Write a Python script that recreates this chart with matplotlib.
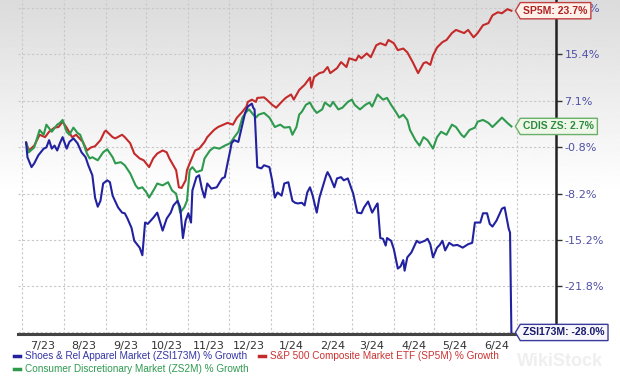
import numpy as np
import pandas as pd
import matplotlib
matplotlib.use("Agg")
import matplotlib.pyplot as plt
import matplotlib.dates as mdates
from matplotlib.path import Path
from matplotlib.lines import Line2D
from matplotlib.ticker import FixedLocator, NullFormatter, FuncFormatter


def to_dates(md):
    # chart runs Jul 2023 - Jun 2024, so the year follows from the month
    return pd.to_datetime([("2023-" if int(s[:2]) >= 7 else "2024-") + s for s in md])


# S&P 500 Composite Market ETF (SP5M) % growth
sp5m_days = ["07-04", "07-06", "07-10", "07-14", "07-18", "07-21", "07-25", "07-28", "07-31",
             "08-03", "08-07", "08-10", "08-15", "08-18", "08-21", "08-24", "08-28", "08-31",
             "09-01", "09-06", "09-08", "09-13", "09-15", "09-19", "09-22", "09-26", "09-29",
             "10-03", "10-06", "10-09", "10-13", "10-16", "10-18", "10-23", "10-25", "10-27", "10-30", "10-31",
             "11-02", "11-06", "11-09", "11-13", "11-15", "11-20", "11-23", "11-27", "11-30",
             "12-04", "12-07", "12-11", "12-14", "12-15", "12-18", "12-21", "12-22", "12-27", "12-29",
             "01-02", "01-05", "01-09", "01-12", "01-16", "01-18", "01-22", "01-26", "01-30", "01-31",
             "02-02", "02-06", "02-09", "02-12", "02-14", "02-19", "02-22", "02-26", "02-28",
             "03-04", "03-06", "03-08", "03-12", "03-15", "03-19", "03-22", "03-26", "03-28",
             "04-01", "04-04", "04-08", "04-11", "04-15", "04-19", "04-23", "04-25", "04-28", "04-30",
             "05-03", "05-07", "05-10", "05-14", "05-17", "05-21", "05-23", "05-26", "05-30",
             "06-02", "06-06", "06-10", "06-13", "06-17", "06-20", "06-24", "06-27"]
sp5m_vals = [0.0, -1.3, -0.5, 1.3, 0.9, 1.8, 2.5, 2.6, 3.5,
             2.5, 0.9, 1.3, 0.1, -1.3, -0.8, -0.6, 0.4, 1.8,
             2.0, 0.9, 0.7, 1.3, 0.9, -0.1, -1.8, -2.6, -2.9,
             -4.0, -2.6, -1.8, -1.3, -1.6, -2.6, -4.5, -7.2, -7.3, -6.1, -4.5,
             -3.4, -1.3, -1.0, 0.1, 0.9, 2.1, 2.6, 3.0, 3.3,
             3.0, 4.2, 5.2, 6.1, 6.9, 7.3, 6.9, 7.6, 7.7, 7.3,
             6.4, 5.9, 6.9, 7.6, 8.2, 7.3, 9.0, 9.9, 11.2, 9.4,
             11.3, 12.0, 12.2, 13.1, 12.0, 12.9, 14.0, 13.1, 14.7,
             14.3, 15.2, 14.7, 15.6, 14.9, 17.1, 17.5, 17.1, 18.1,
             17.5, 16.2, 16.5, 15.8, 14.0, 12.0, 13.8, 14.0, 13.5, 15.2,
             16.7, 17.7, 18.1, 19.4, 20.0, 19.6, 19.4, 20.0, 18.6,
             19.4, 20.9, 21.3, 22.8, 23.4, 23.2, 24.0, 23.7]

# Consumer Discretionary Market (ZS2M) % growth
zs2m_days = ["07-04", "07-06", "07-10", "07-14", "07-17", "07-19", "07-23", "07-27", "07-29", "07-31",
             "08-03", "08-05", "08-08", "08-11", "08-13", "08-15", "08-18", "08-20", "08-22", "08-26", "08-30",
             "09-02", "09-06", "09-08", "09-12", "09-15", "09-19", "09-23", "09-25", "09-28",
             "10-01", "10-03", "10-07", "10-09", "10-13", "10-17", "10-20", "10-23", "10-26", "10-29", "10-31",
             "11-02", "11-04", "11-07", "11-11", "11-13", "11-17", "11-20", "11-24", "11-28",
             "12-02", "12-05", "12-08", "12-11", "12-14", "12-16", "12-18", "12-21", "12-23", "12-27", "12-31",
             "01-04", "01-08", "01-11", "01-15", "01-17", "01-20", "01-22", "01-24", "01-27", "01-30",
             "02-01", "02-04", "02-08", "02-10", "02-14", "02-16", "02-20", "02-23", "02-27",
             "03-01", "03-03", "03-07", "03-11", "03-14", "03-16", "03-20", "03-24", "03-27", "03-30",
             "04-03", "04-05", "04-08", "04-11", "04-13", "04-17", "04-20", "04-23", "04-26", "04-30",
             "05-03", "05-06", "05-10", "05-14", "05-17", "05-21", "05-23", "05-27", "05-31",
             "06-02", "06-06", "06-10", "06-13", "06-17", "06-20", "06-24", "06-27"]
zs2m_vals = [0.0, -1.6, -0.8, 2.1, 1.3, 3.0, 1.8, 3.0, 3.3, 3.8,
             1.8, 1.3, 2.5, 1.6, 1.3, 0.1, -1.8, -2.6, -2.4, -2.9, -1.6,
             -1.1, -2.4, -3.4, -3.2, -3.7, -5.0, -6.9, -7.4, -7.2,
             -8.0, -8.8, -7.4, -6.6, -6.9, -6.4, -7.7, -8.2, -11.1, -10.3, -9.3,
             -4.5, -4.0, -4.8, -4.5, -2.6, -1.3, -0.8, -1.0, -0.5,
             -0.1, 0.9, 1.8, 4.2, 5.2, 5.6, 5.0, 4.2, 4.7, 5.0, 4.2,
             2.6, 3.0, 2.5, 2.6, 1.3, 2.6, 4.7, 5.2, 6.4, 6.8,
             5.9, 5.0, 5.6, 6.8, 6.1, 6.9, 5.6, 5.9, 6.9,
             7.3, 6.4, 5.6, 6.4, 6.8, 6.1, 8.2, 7.3, 7.6, 6.4,
             5.0, 4.2, 4.7, 3.8, 2.1, 0.4, -0.5, 0.9, 0.4, -1.0,
             0.9, 1.8, 1.3, 3.0, 2.6, 1.3, 0.9, 2.1, 2.5,
             3.5, 3.8, 3.3, 2.6, 3.5, 4.2, 3.3, 2.7]

# Shoes & Rel Apparel Market (ZSI173M) % growth
zsi_days = ["07-04", "07-05", "07-08", "07-10", "07-13", "07-17", "07-19", "07-21", "07-23", "07-25", "07-27", "07-29", "07-31",
            "08-03", "08-05", "08-08", "08-11", "08-14", "08-17", "08-19", "08-22", "08-24", "08-26", "08-28", "08-30",
            "09-02", "09-04", "09-06", "09-10", "09-13", "09-15", "09-17", "09-20", "09-22", "09-26", "09-28", "09-30",
            "10-02", "10-06", "10-09", "10-13", "10-16", "10-19", "10-21", "10-24", "10-26", "10-28", "10-30",
            "11-01", "11-03", "11-04", "11-07", "11-09", "11-11", "11-13", "11-15", "11-18", "11-22", "11-26", "11-28", "11-30",
            "12-02", "12-03", "12-05", "12-08", "12-11", "12-13", "12-15", "12-18", "12-19", "12-20", "12-22", "12-25", "12-27", "12-31",
            "01-02", "01-04", "01-06", "01-09", "01-11", "01-14", "01-17", "01-19", "01-21", "01-24", "01-26", "01-28", "01-30",
            "02-01", "02-04", "02-06", "02-08", "02-11", "02-12", "02-14", "02-17", "02-19", "02-22", "02-24", "02-27",
            "03-02", "03-05", "03-08", "03-10", "03-13", "03-16", "03-19", "03-20", "03-22", "03-24", "03-26", "03-27", "03-30",
            "04-01", "04-04", "04-06", "04-08", "04-09", "04-11", "04-14", "04-18", "04-20", "04-24", "04-26", "04-28", "04-30",
            "05-03", "05-05", "05-07", "05-09", "05-12", "05-15", "05-18", "05-22", "05-26", "05-29", "05-31",
            "06-04", "06-06", "06-09", "06-11", "06-13", "06-16", "06-20", "06-22", "06-23", "06-25", "06-26", "06-27"]
zsi_vals = [0.0, -2.4, -4.0, -3.4, -2.1, -1.0, -0.8, 0.4, -1.0, -0.5, -1.3, -0.1, 0.9,
            -1.0, 0.1, 0.7, -0.1, -1.6, -2.4, -3.7, -5.3, -8.8, -10.2, -9.3, -6.6,
            -6.1, -6.4, -8.5, -10.3, -11.1, -11.2, -12.0, -13.4, -15.3, -16.3, -17.4, -12.6,
            -12.8, -11.9, -11.1, -13.8, -12.0, -11.1, -10.0, -9.3, -10.3, -14.9, -12.3,
            -11.2, -12.6, -7.7, -5.6, -5.3, -7.4, -8.8, -6.6, -7.4, -7.2, -5.8, -5.6, -3.4,
            -1.3, -0.1, 0.4, 0.1, 3.0, 5.0, 6.1, 6.6, 5.9, 5.6, -4.0, -4.2, -3.7, -4.0,
            -6.1, -8.8, -8.0, -8.5, -6.6, -6.4, -9.3, -9.6, -9.7, -9.6, -10.0, -8.0, -7.2,
            -8.5, -11.1, -8.8, -7.4, -5.3, -4.8, -5.6, -7.2, -5.8, -5.6, -6.1, -5.8,
            -8.2, -11.1, -11.2, -10.3, -9.4, -11.1, -10.0, -9.7, -14.9, -15.0, -16.0, -14.9, -15.3,
            -16.5, -19.3, -19.0, -18.1, -19.6, -17.7, -17.0, -15.3, -15.6, -15.3, -15.0, -15.8, -17.7,
            -16.3, -15.9, -15.3, -16.7, -15.6, -16.0, -15.9, -16.3, -15.8, -15.6, -12.6,
            -12.6, -11.2, -11.2, -12.8, -13.2, -12.3, -10.5, -10.3, -11.4, -13.5, -14.1, -28.0]

ytick_vals = [-28.0, -21.8, -15.2, -8.2, -0.8, 7.1, 15.4, 24.2]
month_starts = pd.date_range("2023-07-01", "2024-07-01", freq="MS")
mid_months = pd.date_range("2023-07-01", periods=12, freq="MS") + pd.Timedelta(days=15)

c_red, c_green, c_blue = "#c42a2a", "#2e9a4e", "#2222a0"

# axis uses a compressed log-like growth scale (evenly spaced ticks)
OFF = 133.7
def fwd(v):
    return np.log(np.clip(np.asarray(v, dtype=float) + OFF, 1e-6, None))
def inv(u):
    return np.exp(u) - OFF

fig = plt.figure(figsize=(6.2, 3.85), dpi=100)

# grey-to-white background
bg = fig.add_axes([0, 0, 1, 1], zorder=-10)
t = np.linspace(0, 1, 300)
shade = np.clip(0.86 + 0.14 * t / 0.5, 0, 1)
bg.imshow(shade[:, None], aspect="auto", cmap="gray", vmin=0, vmax=1, extent=[0, 1, 0, 1])
bg.text(560 / 620, 1 - 362 / 385, "WikiStock", fontsize=13, fontweight="bold",
        family="Liberation Sans", color="#efefef", ha="center", va="center",
        transform=bg.transAxes)
bg.axis("off")

ax = fig.add_axes([18 / 620, 1 - 334 / 385, (556 - 18) / 620, 334 / 385])
ax.set_facecolor("none")
ax.set_yscale("function", functions=(fwd, inv))

ax.plot(to_dates(sp5m_days), sp5m_vals, color=c_red, lw=1.5)
ax.plot(to_dates(zs2m_days), zs2m_vals, color=c_green, lw=1.5)
ax.plot(to_dates(zsi_days), zsi_vals, color=c_blue, lw=1.5)

ax.set_xlim(pd.Timestamp("2023-06-28"), pd.Timestamp("2024-07-30"))
ax.set_ylim(-28.2, 25.8)

ax.xaxis.set_major_locator(FixedLocator(mdates.date2num(month_starts)))
ax.xaxis.set_major_formatter(NullFormatter())
ax.xaxis.set_minor_locator(FixedLocator(mdates.date2num(mid_months)))
ax.xaxis.set_minor_formatter(FuncFormatter(
    lambda x, p: f"{mdates.num2date(x).month}/{mdates.num2date(x):%y}"))
ax.tick_params(axis="x", which="both", length=0, labelsize=8, labelcolor="#333333", pad=5)

ax.yaxis.tick_right()
ax.set_yticks(ytick_vals)
ax.set_yticks([], minor=True)
ax.set_yticklabels([f"{v:.1f}%" for v in ytick_vals])
ax.tick_params(axis="y", length=4, width=1, color="#333333", labelsize=8,
               labelcolor="#5050a6", pad=2)

ax.grid(which="major", color="#c8c8c8", lw=0.8, ls=(0, (2, 2)))
for s in ["left", "top"]:
    ax.spines[s].set_visible(False)
ax.spines["right"].set_color("#222222")
ax.spines["right"].set_linewidth(1.8)
ax.spines["bottom"].set_color("#444444")
ax.spines["bottom"].set_linewidth(2.2)


def tag_box(x0, y0, width, height, mutation_size):
    pad = 0.3 * mutation_size
    x0, y0 = x0 - pad, y0 - pad
    x1, y1 = x0 + width + 2 * pad, y0 + height + 2 * pad
    tip = 0.3 * (y1 - y0)
    ym = (y0 + y1) / 2
    return Path([(x0 - tip, ym), (x0, y1), (x1, y1), (x1, y0), (x0, y0), (x0 - tip, ym)],
                closed=True)


end_labels = [
    ("SP5M", sp5m_days, sp5m_vals, "#b02222", "#fdf1ea", "#c04040"),
    ("CDIS ZS", zs2m_days, zs2m_vals, "#2e8a40", "#eef7e8", "#6ab06a"),
    ("ZSI173M", zsi_days, zsi_vals, "#1a1a6e", "#f6f6fb", "#3a3a9a"),
]
for name, days, vals, tc, fc, ec in end_labels:
    ax.annotate(f"{name}: {vals[-1]:.1f}%", xy=(to_dates(days[-1:])[0], vals[-1]),
                xytext=(12, 0), textcoords="offset pixels", ha="left", va="center",
                fontsize=7.5, fontweight="bold", family="Liberation Sans", color=tc,
                bbox=dict(boxstyle=tag_box, fc=fc, ec=ec, lw=1), annotation_clip=False,
                zorder=5)

handles = [Line2D([], [], color=c_blue, lw=2.5),
           Line2D([], [], color=c_green, lw=2.5),
           Line2D([], [], color=c_red, lw=2.5)]
labels = ["Shoes & Rel Apparel Market (ZSI173M) % Growth",
          "Consumer Discretionary Market (ZS2M) % Growth",
          "S&P 500 Composite Market ETF (SP5M) % Growth"]
fig.legend(handles, labels, ncol=2, loc="upper left", bbox_to_anchor=(14 / 620, 1 - 351 / 385),
           frameon=False, prop={"family": "Liberation Sans", "size": 7.2},
           labelcolor=["#3535a5", "#2f9a50", "#cc3333"], handlelength=0.6,
           handletextpad=0.5, columnspacing=1.0, labelspacing=0.3, borderpad=0,
           borderaxespad=0)

fig.savefig("out.png", dpi=100)
